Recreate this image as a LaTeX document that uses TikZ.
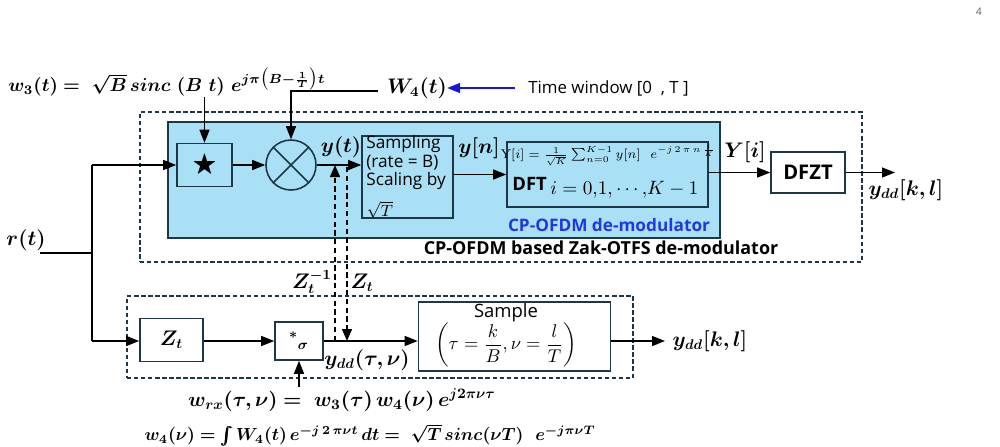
\RequirePackage{fix-cm}
\documentclass[tikz,border=0pt]{standalone}
\usepackage{amsmath,amssymb,bm}
\usepackage{fontspec}
\setsansfont{Open Sans}
\usetikzlibrary{arrows.meta}
\definecolor{boxc}{RGB}{30,55,70}
\definecolor{bluefill}{RGB}{170,224,246}
\definecolor{bluetxt}{RGB}{35,55,225}
\definecolor{bluearr}{RGB}{20,20,225}
\tikzset{
  blk/.style={draw=boxc, line width=0.9pt, inner sep=0pt},
  arr/.style={-{Triangle[length=2.6mm,width=2mm]}, line width=0.8pt},
  darr/.style={-{Triangle[length=2.4mm,width=2mm]}, line width=0.8pt, dash pattern=on 3pt off 2pt},
  frame/.style={draw=boxc, line width=0.8pt, dash pattern=on 2.5pt off 1.5pt},
  mlab/.style={inner sep=0pt, font=\fontsize{12}{14}\selectfont},
  slab/.style={inner sep=0pt, font=\sffamily\fontsize{9.6}{11}\selectfont},
}
\begin{document}
\begin{tikzpicture}[x=0.2mm,y=-0.2mm]
\useasboundingbox (0,0) rectangle (1000,446);
% page number
\node[inner sep=0pt, text=black!60, font=\sffamily\fontsize{6}{7}\selectfont] (pg) at (979,12) {4};
% frames
\node[frame, minimum width=144.4mm, minimum height=30mm] (outer) at (501,187) {};
\node[blk, fill=bluefill, draw=boxc, minimum width=110.4mm, minimum height=23.2mm] (ofdm) at (444,180) {};
\node[frame, minimum width=101.2mm, minimum height=16.4mm] (lower) at (380,337) {};
% top labels
\node[inner sep=0pt, anchor=west, font=\fontsize{10.7}{13}\selectfont] (w3) at (8,82) {$\bm{w_3(t) =\ \sqrt{B}\, sinc\ (B\ t)\ e^{j\pi\bigl(B-\frac{1}{T}\bigr)t}}$};
\node[mlab] (W4) at (417,88) {$\bm{W_4(t)}$};
\node[slab, anchor=west] (tw) at (528,88) {Time window [0\ \ , T ]};
\draw[-{Triangle[length=2.6mm,width=2mm]}, line width=0.9pt, bluearr, shorten <=13*0.2mm] (tw.west) -- (W4.east);
% top row blocks
\node[blk, minimum width=11mm, minimum height=8.6mm] (star) at (204.5,165) {\Large$\bigstar$};
\node[blk, circle, minimum size=10mm] (mul) at (291,165) {};
\draw[line width=0.9pt, boxc] (mul.north west) -- (mul.south east) (mul.north east) -- (mul.south west);
\node[blk, minimum width=18.2mm, minimum height=16.4mm] (samp) at (407.5,177) {};
\node[inner sep=0pt, anchor=north west, align=left, font=\sffamily\fontsize{9.8}{10.4}\selectfont] (sampt) at (366,135.5) {Sampling\\(rate = B)\\Scaling by};
\node[inner sep=0pt, font=\fontsize{9.3}{11}\selectfont] (sampr) at (380,209.5) {$\sqrt{T}$};
\node[blk, minimum width=40.2mm, minimum height=13mm] (dft) at (607.5,174.5) {};
\node[inner sep=0pt, font=\fontsize{7.2}{8}\selectfont] (dftf) at (608,155) {$\mathrm{Y}[i] = \frac{1}{\sqrt{K}}\sum_{n=0}^{K-1} y[n]\ \ e^{-j\,2\,\pi\,n\,\frac{i}{K}}$};
\node[inner sep=0pt, anchor=west, font=\sffamily\bfseries\fontsize{10.5}{12}\selectfont] (dftl) at (512,184) {DFT};
\node[inner sep=0pt, anchor=west, font=\fontsize{11}{13}\selectfont] (dfti) at (550,190) {$i = 0{,}1{,}\cdots{,}K-1$};
\node[blk, minimum width=14.8mm, minimum height=8.2mm, font=\sffamily\bfseries\fontsize{11.5}{13}\selectfont] (dfzt) at (808,172.5) {DFZT};
\coordinate (out1) at (895,172.5);
% labels top row
\node[mlab] (yt) at (341,147) {$\bm{y(t)}$};
\node[mlab] (yn) at (479,148) {$\bm{y[n]}$};
\node[mlab] (Yi) at (745,152) {$\bm{Y[i]}$};
\node[mlab] (ydd1) at (906,190) {$\bm{y_{dd}[k,l]}$};
\node[inner sep=0pt, text=bluetxt, font=\sffamily\bfseries\fontsize{9.8}{11}\selectfont] (ofdml) at (609,225) {CP-OFDM de-modulator};
\node[inner sep=0pt, font=\sffamily\bfseries\fontsize{10.2}{12}\selectfont] (outerl) at (601,248) {CP-OFDM based Zak-OTFS de-modulator};
% input
\node[mlab] (rt) at (26,240) {$\bm{r(t)}$};
\coordinate (rin) at (40,253);
\coordinate (br) at (92,253);
\coordinate (brt) at (92,165);
\coordinate (brb) at (92,341);
% lower row
\node[blk, minimum width=12.6mm, minimum height=8.6mm] (zt) at (171.5,340) {\large$\bm{Z_t}$};
\node[blk, minimum width=9.6mm, minimum height=7.6mm] (conv) at (299,341) {\large$\bm{{}^{*}{}_{\sigma}}$};
\node[blk, minimum width=38.4mm, minimum height=13.8mm] (smp) at (514.5,336.5) {};
\node[inner sep=0pt, font=\sffamily\fontsize{10.5}{12}\selectfont] (smpl) at (506,313) {Sample};
\node[inner sep=0pt, font=\fontsize{10.5}{12}\selectfont] (smpf) at (506,345) {$\left(\tau = \dfrac{k}{B}, \nu = \dfrac{l}{T}\right)$};
\coordinate (out2) at (665,341);
\node[mlab] (ydd2) at (710,341) {$\bm{y_{dd}[k,l]}$};
\node[mlab] (yddt) at (367,360) {$\bm{y_{dd}(\tau,\nu)}$};
\node[mlab] (zinv) at (312,282) {$\bm{Z_t^{-1}}$};
\node[mlab] (ztl) at (362,283) {$\bm{Z_t}$};
\node[inner sep=0pt, font=\fontsize{11.7}{14}\selectfont] (wrx) at (342,400) {$\bm{w_{rx}(\tau,\nu) =\ w_3(\tau)\, w_4(\nu)\, e^{j2\pi\nu\tau}}$};
\node[inner sep=0pt, font=\fontsize{10}{12}\selectfont] (w4f) at (370,435) {$\bm{w_4(\nu) = \int W_4(t)\, e^{-j\,2\,\pi\nu t}\, dt =\ \sqrt{T}\, sinc(\nu T)\ \ e^{-j\pi\nu T}}$};
% connectors top
\draw[line width=0.8pt] (rin) -- (br) (brt) -- (brb);
\draw[arr] (brt) -- (star.west);
\draw[arr] (star.east) -- (mul.west);
\draw[arr] (mul.east) -- (samp.west |- mul.east);
\draw[arr] (samp.east |- dft.west) -- (dft.west);
\draw[arr] (dft.east |- dfzt.west) -- (dfzt.west);
\draw[arr] (dfzt.east) -- (out1);
\coordinate (w3tail) at (204.5,97);
\draw[arr] (w3tail) -- (star.north);
\coordinate (w4corner) at (291,91);
\coordinate (w4tail) at (378,91);
\draw[arr] (w4tail) -- (w4corner) -- (mul.north);
% connectors bottom
\draw[arr] (brb) -- (zt.west |- brb);
\draw[arr] (zt.east |- conv.west) -- (conv.west);
\draw[arr] (conv.east) -- (smp.west |- conv.east);
\draw[arr] (smp.east |- out2) -- (out2);
\coordinate (wrxtail) at (299,387);
\draw[arr] (wrxtail) -- (conv.south);
% dashed Zak transforms
\coordinate (zi1) at (335,341);
\coordinate (zi2) at (335,165);
\coordinate (zf1) at (347,167);
\coordinate (zf2) at (347,341);
\draw[darr] (zi1) -- (zi2);
\draw[darr] (zf1) -- (zf2);
\end{tikzpicture}
\end{document}
